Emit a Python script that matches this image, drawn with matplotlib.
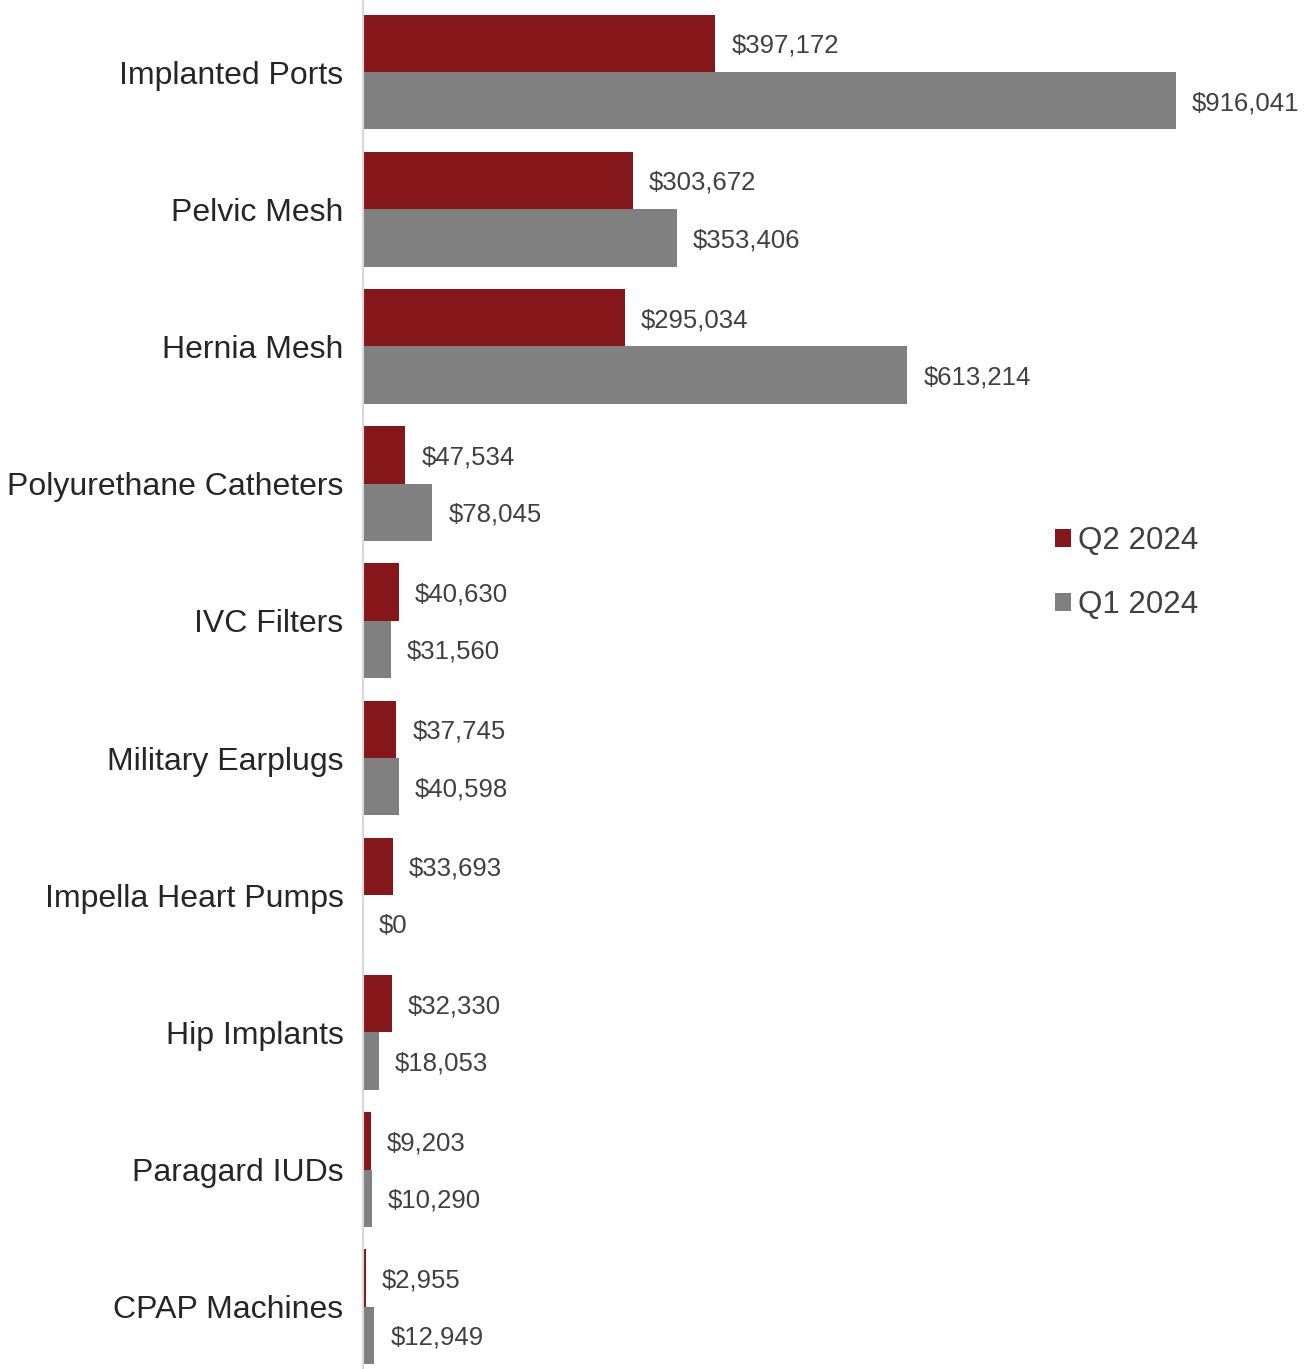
import matplotlib.pyplot as plt
import numpy as np

plt.rcParams['font.family'] = ['Liberation Sans', 'DejaVu Sans']

# data
categories = ["Implanted Ports", "Pelvic Mesh", "Hernia Mesh", "Polyurethane Catheters",
              "IVC Filters", "Military Earplugs", "Impella Heart Pumps", "Hip Implants",
              "Paragard IUDs", "CPAP Machines"]
q2_2024 = [397172, 303672, 295034, 47534, 40630, 37745, 33693, 32330, 9203, 2955]
q1_2024 = [916041, 353406, 613214, 78045, 31560, 40598, 0, 18053, 10290, 12949]

red = "#85161a"
grey = "#808080"

fig = plt.figure(figsize=(13.16, 13.69), dpi=100)
ax = fig.add_axes([363 / 1316, 0, (1316 - 363) / 1316, 1])

y = np.arange(len(categories))
h = 0.418
b2 = ax.barh(y - h / 2, q2_2024, height=h, color=red, label="Q2 2024")
b1 = ax.barh(y + h / 2, q1_2024, height=h, color=grey, label="Q1 2024")

ax.set_xlim(0, 916041 * 953 / 813)
ax.set_ylim(9.453, -0.525)

# value labels
pad = 916041 * 16 / 813
dy = 0.017
for yy, v in zip(y - h / 2, q2_2024):
    ax.text(v + pad, yy + dy, f"${v:,}", va="center", ha="left", fontsize=18.5, color="#404040")
for yy, v in zip(y + h / 2, q1_2024):
    ax.text(v + pad, yy + dy, f"${v:,}", va="center", ha="left", fontsize=18.5, color="#404040")

ax.set_yticks(y)
ax.set_yticklabels(categories, fontsize=23, color="#262626")
ax.tick_params(axis="y", length=0, pad=14)
ax.set_xticks([])
for s in ["top", "right", "bottom"]:
    ax.spines[s].set_visible(False)
ax.spines["left"].set_color("#d9d9d9")
ax.spines["left"].set_linewidth(1.5)
ax.patch.set_alpha(0)

fig.legend(handles=[b2, b1], loc="center left", bbox_to_anchor=(1055 / 1316, 1 - 573 / 1369),
           frameon=False, fontsize=22.5, handlelength=0.5, handleheight=0.5,
           handletextpad=0.25, labelspacing=1.1, borderpad=0, borderaxespad=0,
           labelcolor="#404040")

fig.savefig("out.png", dpi=100)
